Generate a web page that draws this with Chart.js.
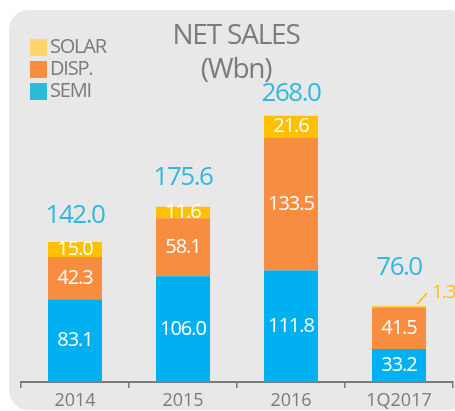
<!DOCTYPE html>
<html>
<head>
<meta charset="utf-8">
<script src="https://cdn.jsdelivr.net/npm/chart.js@4.4.1/dist/chart.umd.min.js"></script>
<style>
  body { margin: 0; background: #fff; }
  #wrap { width: 455px; height: 411px; position: relative; }
</style>
</head>
<body>
<div id="wrap"><canvas id="myChart"></canvas></div>
<script>
// data
const categorias = ["2014", "2015", "2016", "1Q2017"];
const semi  = [83.1, 106.0, 111.8, 33.2];
const disp  = [42.3, 58.1, 133.5, 41.5];
const solar = [15.0, 11.6, 21.6, 1.3];
const totales = ["142.0", "175.6", "268.0", "76.0"];
const tituloLineas = ["NET SALES", "(Wbn)"];

const gris = "#7b7b7b";
const fuente = "'Open Sans', 'Noto Sans', sans-serif";

// fondo gris redondeado
const panel = {
    id: "panel",
    beforeDraw(chart) {
        const ctx = chart.ctx;
        ctx.save();
        ctx.fillStyle = "#e8e8e8";
        ctx.beginPath();
        ctx.roundRect(9, 10, 460, 400, 20);
        ctx.fill();
        ctx.restore();
    }
};

// titulo + leyenda + etiquetas
const textos = {
    id: "textos",
    afterDatasetsDraw(chart, args, opts) {
        const ctx = chart.ctx;
        ctx.save();

        // titulo
        ctx.fillStyle = gris;
        ctx.textAlign = "center";
        ctx.textBaseline = "middle";
        ctx.font = "28px " + fuente;
        ctx.letterSpacing = "-1.2px";
        ctx.fillText(tituloLineas[0], 236, 36);
        ctx.fillText(tituloLineas[1], 236, 70);

        // leyenda (orden invertido)
        ctx.textAlign = "left";
        ctx.font = "20px " + fuente;
        ctx.letterSpacing = "-1.2px";
        const ds = chart.data.datasets;
        for (let i = ds.length - 1, fila = 0; i >= 0; i--, fila++) {
            const y = 39 + fila * 22;
            ctx.fillStyle = opts.colLeyenda[i];
            ctx.fillRect(30, y, 17, 17);
            ctx.fillStyle = gris;
            ctx.fillText(ds[i].label, 50, y + 8.5);
        }

        // valores dentro de las barras
        ctx.textAlign = "center";
        ds.forEach((d, i) => {
            const meta = chart.getDatasetMeta(i);
            meta.data.forEach((bar, j) => {
                const v = d.data[j];
                const alto = bar.base - bar.y;
                if (alto > 10) {
                    ctx.fillStyle = "#ffffff";
                    ctx.font = "20px " + fuente;
                    ctx.letterSpacing = "-1px";
                    ctx.fillText(v.toFixed(1), bar.x, (bar.y + bar.base) / 2);
                } else {
                    // etiqueta afuera con linea
                    ctx.strokeStyle = d.backgroundColor;
                    ctx.lineWidth = 1.5;
                    ctx.beginPath();
                    ctx.moveTo(bar.x + 18, bar.y - 2);
                    ctx.lineTo(bar.x + 28, bar.y - 13);
                    ctx.stroke();
                    ctx.fillStyle = d.backgroundColor;
                    ctx.font = "19px " + fuente;
                    ctx.letterSpacing = "-1px";
                    ctx.textAlign = "left";
                    ctx.fillText(v.toFixed(1), bar.x + 33, bar.y - 14);
                    ctx.textAlign = "center";
                }
            });
        });

        // totales
        const top = chart.getDatasetMeta(ds.length - 1);
        ctx.fillStyle = "#33b8dd";
        ctx.font = "26px " + fuente;
        ctx.letterSpacing = "-1.5px";
        top.data.forEach((bar, j) => {
            ctx.fillText(totales[j], bar.x, bar.y - opts.offTotal[j]);
        });
        ctx.restore();
    }
};

const ctx = document.getElementById("myChart").getContext("2d");
const myChart = new Chart(ctx, {
    type: "bar",
    data: {
        labels: categorias,
        datasets: [
            { label: "SEMI", data: semi, backgroundColor: "#00b0f0" },
            { label: "DISP.", data: disp, backgroundColor: "#f78d41" },
            { label: "SOLAR", data: solar, backgroundColor: "#ffc000" }
        ]
    },
    options: {
        responsive: true,
        maintainAspectRatio: false,
        animation: false,
        categoryPercentage: 1,
        barPercentage: 0.5,
        layout: { padding: { left: 21, right: 2, top: 20, bottom: 0 } },
        scales: {
            x: {
                stacked: true,
                afterFit: (s) => { s.height = 29; },
                grid: { drawOnChartArea: false, drawTicks: true, tickLength: 6, color: gris, lineWidth: 1.5 },
                border: { color: gris, width: 2 },
                ticks: { color: gris, padding: 2, font: { family: "'Open Sans'", size: 18 } }
            },
            y: {
                stacked: true,
                display: false,
                min: 0,
                max: 363
            }
        },
        plugins: {
            legend: { display: false },
            tooltip: { enabled: false },
            textos: {
                colLeyenda: ["#2bbcda", "#f78d3f", "#fdd46e"],
                offTotal: [26, 29, 22, 39]
            }
        }
    },
    plugins: [panel, textos]
});
</script>
</body>
</html>
